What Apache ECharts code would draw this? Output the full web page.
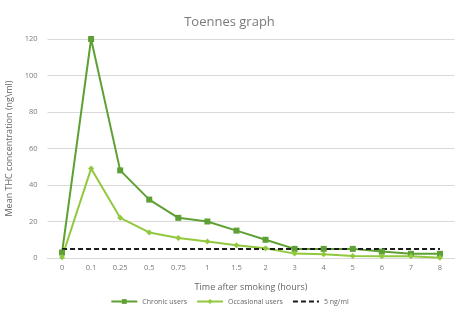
<!DOCTYPE html>
<html><head><meta charset="utf-8">
<script src="https://cdn.jsdelivr.net/npm/echarts@6/dist/echarts.min.js"></script>
<style>html,body{margin:0;padding:0;background:#fff}#c{width:459px;height:314px}</style>
</head><body><div id="c"></div>
<script>
const categories = ['0','0.1','0.25','0.5','0.75','1','1.5','2','3','4','5','6','7','8'];
const chronicUsers = [3,120,48,32,22,20,15,10,5,5,5,3.5,2.3,2.3];
const occasionalUsers = [0.4,49,22,14,11,9,7,5.3,2.4,2,1.1,0.9,0.9,0.2];
const threshold = [5,5,5,5,5,5,5,5,5,5,5,5,5,5];
const yTicks = {min:0, max:120, interval:20};

const font = '"Open Sans", "Liberation Sans", sans-serif';
const chart = echarts.init(document.getElementById('c'), null, {renderer:'canvas'});
chart.setOption({
  animation:false,
  title:{text:'Toennes graph', left:'center', top:11,
    textStyle:{color:'#7a7a7a', fontSize:13, fontWeight:'normal', fontFamily:font}},
  grid:{left:47.5, right:4.5, top:39, bottom:56, outerBoundsMode:'none', containLabel:false},
  xAxis:{type:'category', data:categories, boundaryGap:true,
    name:'Time after smoking (hours)', nameLocation:'middle', nameGap:25,
    nameTextStyle:{color:'#666666', fontSize:9, fontFamily:font},
    axisLine:{show:true, lineStyle:{color:'#d9d9d9'}}, axisTick:{show:false},
    axisLabel:{color:'#7a7a7a', fontSize:7.5, fontFamily:font, margin:6}},
  yAxis:{type:'value', min:yTicks.min, max:yTicks.max, interval:yTicks.interval,
    name:'Mean THC concentration (ng\\ml)', nameLocation:'middle', nameGap:29,
    nameTextStyle:{color:'#666666', fontSize:9, fontFamily:font},
    axisLine:{show:false}, axisTick:{show:false},
    splitLine:{lineStyle:{color:'#d9d9d9'}},
    axisLabel:{color:'#7a7a7a', fontSize:7.5, fontFamily:font, margin:10}},
  legend:{bottom:4, left:'center', itemGap:9, itemWidth:26, itemHeight:6,
    textStyle:{color:'#666666', fontSize:7, fontFamily:font},
    data:['Chronic users','Occasional users',{name:'5 ng/ml', itemStyle:{opacity:0}}]},
  series:[
    {name:'Chronic users', type:'line', data:chronicUsers, symbol:'rect', symbolSize:6,
      lineStyle:{color:'#5ea034', width:2}, itemStyle:{color:'#5ea034'}},
    {name:'Occasional users', type:'line', data:occasionalUsers, symbol:'diamond', symbolSize:6,
      lineStyle:{color:'#92c83e', width:2}, itemStyle:{color:'#92c83e'}},
    {name:'5 ng/ml', type:'line', data:threshold, symbol:'none',
      lineStyle:{color:'#1a1a1a', width:2, type:[5,3]}, itemStyle:{color:'#1a1a1a'}}
  ]
});
</script></body></html>
